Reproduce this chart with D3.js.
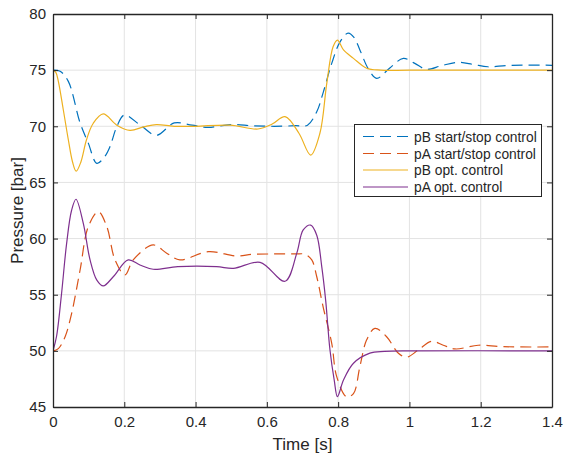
<!DOCTYPE html>
<html><head><meta charset="utf-8">
<script src="https://cdn.jsdelivr.net/npm/d3@7/dist/d3.min.js"></script>
<style>body{margin:0;background:#fff}svg{display:block}text{font-family:"Liberation Sans",Arial,sans-serif;fill:#262626}</style>
</head><body><svg id="c" width="565" height="457"></svg>
<script>
// ---- data ----
const xTicks = [0, 0.2, 0.4, 0.6, 0.8, 1, 1.2, 1.4];
const xTickLabels = ["0", "0.2", "0.4", "0.6", "0.8", "1", "1.2", "1.4"];
const yTicks = [45, 50, 55, 60, 65, 70, 75, 80];
const yTickLabels = ["45", "50", "55", "60", "65", "70", "75", "80"];
const seriesNames = ["pB start/stop control", "pA start/stop control", "pB opt. control", "pA opt. control"];

const pBssT = [0,0.02,0.043,0.076,0.099,0.123,0.145,0.16,0.179,0.2,0.245,0.29,0.34,0.39,0.435,0.497,0.56,0.62,0.68,0.714,0.74,0.758,0.782,0.805,0.828,0.845,0.861,0.885,0.908,0.945,0.983,1.015,1.048,1.09,1.137,1.18,1.22,1.27,1.32,1.4];
const pBssV = [75,74.9,74.0,70.3,68.5,66.7,67.3,68.2,69.97,71.0,70.1,69.2,70.3,70.1,69.9,70.15,70.05,70.0,70.05,70.1,71.3,73.0,75.6,77.5,78.3,77.9,76.8,75.1,74.27,75.2,76.05,75.6,75.07,75.4,75.7,75.5,75.3,75.4,75.45,75.43];

const pAssT = [0,0.015,0.034,0.052,0.076,0.099,0.127,0.151,0.174,0.202,0.225,0.281,0.319,0.356,0.436,0.515,0.56,0.62,0.68,0.707,0.726,0.74,0.758,0.782,0.796,0.824,0.843,0.861,0.88,0.903,0.936,0.969,0.992,1.025,1.062,1.095,1.128,1.193,1.25,1.3,1.4];
const pAssV = [50,50.2,51.26,53.3,57.2,61.06,62.4,61.06,58.1,56.76,58.1,59.43,58.7,58.1,58.84,58.45,58.6,58.63,58.63,58.6,58.1,56.6,53.9,50.67,47.7,45.9,46.2,48.6,50.98,52.0,51.26,49.78,49.43,50.08,50.85,50.5,50.17,50.5,50.4,50.35,50.35];

const pBoptT = [0,0.008,0.015,0.029,0.043,0.055,0.065,0.078,0.094,0.113,0.141,0.179,0.216,0.255,0.29,0.34,0.4,0.497,0.575,0.615,0.651,0.69,0.723,0.749,0.768,0.786,0.798,0.815,0.843,0.88,0.92,1.0,1.4];
const pBoptV = [75,74.8,74.0,71.45,68.8,66.8,66.0,66.8,68.8,70.27,71.1,70.1,69.64,69.95,70.15,70.0,70.0,70.1,69.76,70.2,70.86,69.38,67.44,69.4,73.8,77.1,77.68,76.8,76.05,75.17,75.0,75.0,75.0];

const pAoptT = [0,0.01,0.024,0.038,0.052,0.0645,0.085,0.104,0.123,0.141,0.169,0.211,0.244,0.281,0.35,0.459,0.506,0.581,0.651,0.684,0.702,0.723,0.74,0.754,0.765,0.777,0.789,0.798,0.815,0.843,0.889,0.93,1.0,1.4];
const pAoptV = [50,51.3,55.1,59.5,62.5,63.5,61.35,58.1,56.3,55.78,56.6,58.1,57.65,57.27,57.5,57.5,57.35,57.88,56.2,58.7,60.77,61.2,60.3,57.5,54.5,50.1,47.4,45.93,47.4,48.9,49.8,49.95,50.0,50.0];

// ---- chart ----
const svg = d3.select("#c");
const L = 53, R = 552, T = 14, B = 407;
const x = d3.scaleLinear().domain([0, 1.4]).range([L, R]);
const y = d3.scaleLinear().domain([45, 80]).range([B, T]);
const axisCol = "#262626";

// grid
const g = svg.append("g");
g.selectAll(".gx").data(xTicks.slice(1, -1)).join("line")
  .attr("x1", d => x(d)).attr("x2", d => x(d)).attr("y1", T).attr("y2", B)
  .attr("stroke", "#e3e3e3").attr("stroke-width", 1);
g.selectAll(".gy").data(yTicks.slice(1, -1)).join("line")
  .attr("y1", d => y(d)).attr("y2", d => y(d)).attr("x1", L).attr("x2", R)
  .attr("stroke", "#e3e3e3").attr("stroke-width", 1);

const series = [
  {t: pBssT, v: pBssV, color: "#0072BD", dash: "11,6"},
  {t: pAssT, v: pAssV, color: "#D95319", dash: "11,6"},
  {t: pBoptT, v: pBoptV, color: "#EDB120", dash: null},
  {t: pAoptT, v: pAoptV, color: "#7E2F8E", dash: null}
];
const line = d3.line().x(d => x(d[0])).y(d => y(d[1])).curve(d3.curveCatmullRom.alpha(0.5));
const clip = svg.append("clipPath").attr("id", "clp").append("rect")
  .attr("x", L).attr("y", T).attr("width", R - L).attr("height", B - T);
svg.append("g").attr("clip-path", "url(#clp)").selectAll("path").data(series).join("path")
  .attr("d", s => line(s.t.map((t, i) => [t, s.v[i]])))
  .attr("fill", "none").attr("stroke", s => s.color).attr("stroke-width", 1.2)
  .attr("stroke-dasharray", s => s.dash);

// axes
const xAxB = d3.axisBottom(x).tickValues(xTicks).tickFormat((d, i) => xTickLabels[i]).tickSizeInner(-5).tickSizeOuter(0).tickPadding(9);
const xAxT = d3.axisTop(x).tickValues(xTicks).tickFormat("").tickSizeInner(-5).tickSizeOuter(0);
const yAxL = d3.axisLeft(y).tickValues(yTicks).tickFormat((d, i) => yTickLabels[i]).tickSizeInner(-5).tickSizeOuter(0).tickPadding(7);
const yAxR = d3.axisRight(y).tickValues(yTicks).tickFormat("").tickSizeInner(-5).tickSizeOuter(0);
function style(sel) {
  sel.select(".domain").attr("stroke", axisCol).attr("stroke-width", 1.3);
  sel.selectAll(".tick line").attr("stroke", axisCol).attr("stroke-width", 1);
  sel.selectAll("text").attr("fill", axisCol).style("font-size", "15px").style("font-family", '"Liberation Sans",Arial,sans-serif');
}
svg.append("g").attr("transform", `translate(0,${B})`).call(xAxB).call(style);
svg.append("g").attr("transform", `translate(0,${T})`).call(xAxT).call(style);
svg.append("g").attr("transform", `translate(${L},0)`).call(yAxL).call(style);
svg.append("g").attr("transform", `translate(${R},0)`).call(yAxR).call(style);

svg.append("text").attr("x", (L + R) / 2).attr("y", 450).attr("text-anchor", "middle")
  .style("font-size", "17px").text("Time [s]");
svg.append("text").attr("transform", `translate(23,${(T + B) / 2}) rotate(-90)`).attr("text-anchor", "middle")
  .style("font-size", "17px").text("Pressure [bar]");

// legend
const lg = svg.append("g");
lg.append("rect").attr("x", 354.5).attr("y", 124.5).attr("width", 187).attr("height", 72)
  .attr("fill", "#fff").attr("stroke", axisCol).attr("stroke-width", 1);
const ly = [136.5, 153.5, 170, 187];
series.forEach((s, i) => {
  lg.append("line").attr("x1", 363).attr("x2", 408).attr("y1", ly[i]).attr("y2", ly[i])
    .attr("stroke", s.color).attr("stroke-width", 1.2).attr("stroke-dasharray", s.dash);
  lg.append("text").attr("x", 414).attr("y", ly[i] + 5).style("font-size", "13.8px").text(seriesNames[i]);
});
</script></body></html>
